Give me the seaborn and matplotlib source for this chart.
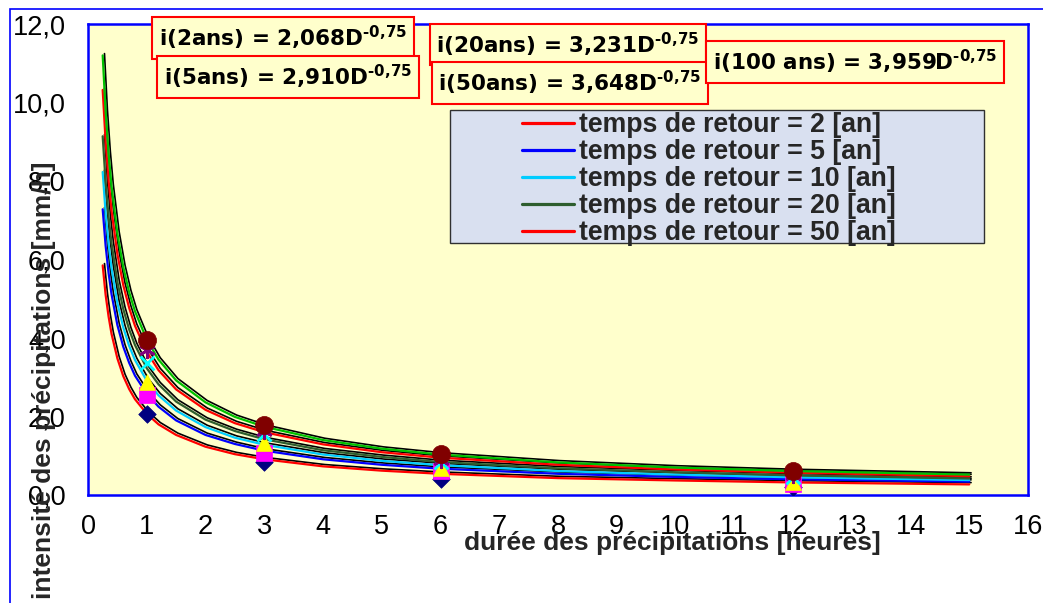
import numpy as np
import pandas as pd
import matplotlib
matplotlib.use("Agg")
import matplotlib.pyplot as plt
import matplotlib.patheffects as pe
from matplotlib.patches import Rectangle
from matplotlib.lines import Line2D
from matplotlib.font_manager import FontProperties
import seaborn as sns

# ---------------- data ----------------
durees_courbe = [0.25, 0.3, 0.35, 0.4, 0.5, 0.6, 0.7, 0.8, 1, 1.2, 1.5, 2,
                 2.5, 3, 4, 5, 6, 8, 10, 12, 15]
courbe_2ans = [5.85, 5.10, 4.55, 4.11, 3.48, 3.03, 2.70, 2.44, 2.07, 1.80, 1.53,
               1.23, 1.04, 0.91, 0.73, 0.62, 0.54, 0.43, 0.37, 0.32, 0.27]
courbe_5ans = [7.28, 6.35, 5.66, 5.12, 4.33, 3.78, 3.37, 3.04, 2.58, 2.25, 1.90,
               1.53, 1.30, 1.13, 0.91, 0.77, 0.67, 0.54, 0.46, 0.40, 0.34]
courbe_10ans = [8.23, 7.18, 6.40, 5.79, 4.89, 4.27, 3.80, 3.44, 2.91, 2.54, 2.15,
                1.73, 1.46, 1.28, 1.03, 0.87, 0.76, 0.61, 0.52, 0.45, 0.38]
courbe_20ans = [9.14, 7.97, 7.10, 6.42, 5.43, 4.74, 4.22, 3.82, 3.23, 2.82, 2.38,
                1.92, 1.63, 1.42, 1.14, 0.97, 0.84, 0.68, 0.58, 0.50, 0.42]
courbe_50ans = [10.32, 9.00, 8.02, 7.25, 6.14, 5.35, 4.77, 4.31, 3.65, 3.18, 2.69,
                2.17, 1.83, 1.60, 1.29, 1.09, 0.95, 0.77, 0.65, 0.57, 0.48]
courbe_100ans = [11.20, 9.77, 8.70, 7.87, 6.66, 5.81, 5.17, 4.68, 3.96, 3.45, 2.92,
                 2.36, 1.99, 1.74, 1.40, 1.18, 1.03, 0.83, 0.70, 0.61, 0.52]

durees_mesure = [1, 3, 6, 12]
mesure_2ans = [2.06, 0.84, 0.42, 0.20]
mesure_5ans = [2.55, 1.07, 0.60, 0.27]
mesure_10ans = [2.89, 1.32, 0.70, 0.33]
mesure_20ans = [3.36, 1.55, 0.84, 0.45]
mesure_50ans = [3.70, 1.62, 0.90, 0.50]
mesure_100ans = [3.95, 1.78, 1.04, 0.61]

periodes = ["2", "5", "10", "20", "50", "100"]
legende_periodes = ["2", "5", "10", "20", "50"]
equations = ["i(2ans) = 2,068D", "i(5ans) = 2,910D", "i(20ans) = 3,231D",
             "i(50ans) = 3,648D", "i(100 ans) = 3,959D"]
exposant = "\u20100{,}75"
x_ticks = list(range(0, 17))
y_ticks = [0, 2, 4, 6, 8, 10, 12]

# ---------------- styling ----------------
couleurs_courbes = ["#FF0000", "#0000FF", "#00CCFF", "#2E5E2E", "#FF0000", "#00C000"]
couleurs_points = ["#000080", "#FF00FF", "#FFFF00", "#00FFFF", "#800080", "#800000"]
marqueurs = ["D", "s", "^", "x", (6, 2, 0), "o"]
tailles = [80, 120, 130, 100, 110, 170]

sns.set_style("white")
plt.rcParams["font.family"] = ["Liberation Sans", "DejaVu Sans"]
plt.rcParams["mathtext.fontset"] = "dejavusans"

W, H = 1043, 603
fig = plt.figure(figsize=(W / 100, H / 100), dpi=100)
fx = lambda px: px / W
fy = lambda py: 1 - py / H
ax = fig.add_axes([fx(88), fy(495), fx(1028) - fx(88), fy(24) - fy(495)])
ax.set_facecolor("#FFFFCC")

courbes = [courbe_2ans, courbe_5ans, courbe_10ans, courbe_20ans, courbe_50ans, courbe_100ans]
df_c = pd.concat([pd.DataFrame({"D": durees_courbe, "i": v, "T": p})
                  for v, p in zip(courbes, periodes)], ignore_index=True)
sns.lineplot(data=df_c, x="D", y="i", hue="T", hue_order=periodes,
             palette=dict(zip(periodes, couleurs_courbes)), ax=ax,
             legend=False, linewidth=1.6, estimator=None, sort=True)
for ln in ax.get_lines():
    ln.set_path_effects([pe.SimpleLineShadow(offset=(1.3, 1.3), shadow_color="black",
                                             alpha=1.0, rho=1.0, linewidth=1.2),
                         pe.Normal()])

mesures = [mesure_2ans, mesure_5ans, mesure_10ans, mesure_20ans, mesure_50ans, mesure_100ans]
for k, (v, c, m, s) in enumerate(zip(mesures, couleurs_points, marqueurs, tailles)):
    df_m = pd.DataFrame({"D": durees_mesure, "i": v})
    if m in ("x", (6, 2, 0)):
        sns.scatterplot(data=df_m, x="D", y="i", color=c, marker=m, s=s,
                        linewidth=2, ax=ax, zorder=4 + k * 0.01, legend=False)
    else:
        sns.scatterplot(data=df_m, x="D", y="i", color=c, marker=m, s=s,
                        edgecolor=c, linewidth=0.5, ax=ax, zorder=4 + k * 0.01,
                        legend=False)

ax.set_xlim(0, 16)
ax.set_ylim(0, 12)
ax.set_xticks(x_ticks)
ax.set_yticks(y_ticks)
ax.set_xticklabels([str(t) for t in x_ticks])
ax.set_yticklabels([f"{t:.1f}".replace(".", ",") for t in y_ticks])
ax.tick_params(axis="both", direction="out", length=5.5, width=1, color="black",
               labelsize=19.5, labelcolor="black")
ax.tick_params(axis="y", pad=10.5)
ax.tick_params(axis="x", pad=8)
for sp in ax.spines.values():
    sp.set_visible(True)
    sp.set_color("#0000FF")
    sp.set_linewidth(1.8)

ax.set_xlabel("durée des précipitations [heures]", fontsize=19, fontweight="bold")
ax.xaxis.set_label_coords(0.622, -0.077)
ax.set_ylabel("intensité des précipitations [mm/h]", fontsize=19, fontweight="bold")
ax.yaxis.set_label_coords(-0.034, 0.244)

# legend
handles = [Line2D([], [], color=c, lw=2.3) for c in couleurs_courbes[:5]]
labels = [f"temps de retour = {p} [an]" for p in legende_periodes]
leg = ax.legend(handles, labels, loc="upper left",
                bbox_to_anchor=(fx(522), fy(112)), bbox_transform=fig.transFigure,
                frameon=False, borderpad=0, borderaxespad=0, handlelength=1.95,
                handletextpad=0.2, labelspacing=0.04,
                prop=FontProperties(family="Liberation Sans", weight="bold", size=19.2))
leg.set_zorder(6)
ax.add_patch(Rectangle((fx(450), fy(243)), fx(984) - fx(450), fy(110) - fy(243),
                       transform=fig.transFigure, facecolor="#D9E0F0",
                       edgecolor="#303030", linewidth=1, clip_on=False, zorder=5))

# equation boxes
centres = [(283, 38), (288, 77), (568, 44.5), (570, 83), (855, 62)]
for txt, (cx, cy) in zip(equations, centres):
    fig.text(fx(cx), fy(cy), txt + r"$^{\mathbf{" + exposant + "}}$",
             ha="center", va="center", fontsize=15.5, fontweight="bold",
             fontfamily="DejaVu Sans", color="black",
             bbox=dict(boxstyle="square,pad=0.32", facecolor="#FFFFCC",
                       edgecolor="#FF0000", linewidth=1.5))

# outer chart border
fig.patches.append(Rectangle((fx(10), -0.05), 1.2, fy(9) + 0.05, transform=fig.transFigure,
                             fill=False, edgecolor="#0000FF", linewidth=1.2, zorder=10))

fig.savefig("out.png", dpi=100)
